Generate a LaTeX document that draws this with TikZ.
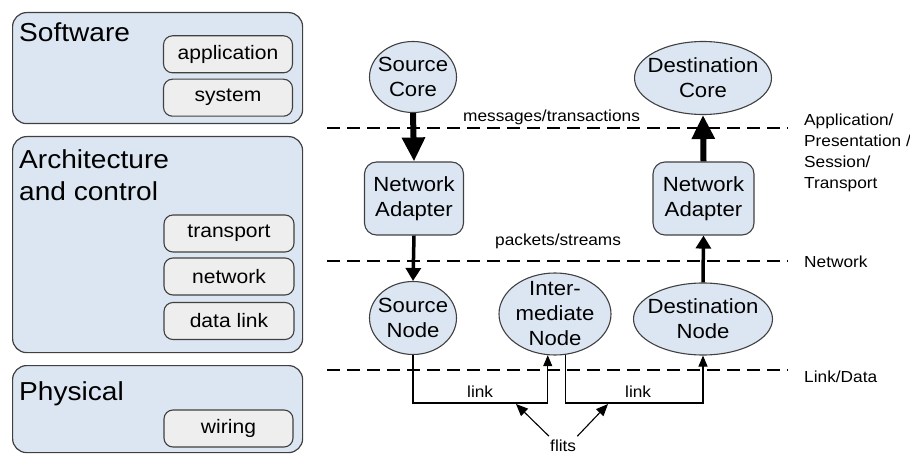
\documentclass[tikz,border=0pt]{standalone}
\usepackage{fontspec}
\setmainfont{Liberation Sans}[FakeStretch=1.08]
\usetikzlibrary{arrows.meta,shapes.geometric,calc}

\definecolor{panelblue}{HTML}{DCE6F2}
\definecolor{tagfill}{HTML}{EEEEEE}
\definecolor{edge}{HTML}{404040}

\tikzset{
  panel/.style={draw=edge, fill=panelblue, rounded corners=14pt, line width=1.2pt,
                anchor=north west, inner sep=0pt},
  tag/.style={draw=edge, fill=tagfill, rounded corners=9pt, line width=1.1pt,
              minimum width=129pt, minimum height=37pt, inner sep=0pt,
              font=\fontsize{19.5}{22}\selectfont},
  title/.style={inner sep=0pt, align=left, font=\fontsize{26}{32}\selectfont},
  nodetext/.style={inner sep=0pt, align=center, font=\fontsize{20.5}{25}\selectfont},
  blob/.style={ellipse, draw=edge, fill=panelblue, line width=1.1pt, inner sep=0pt},
  adapter/.style={draw=edge, fill=panelblue, rounded corners=12pt, line width=1.1pt,
                  minimum height=73pt, inner sep=0pt, align=center,
                  font=\fontsize{20.5}{25}\selectfont},
  layerline/.style={dash pattern=on 13pt off 7pt, line width=2.8pt},
  bigflow/.style={line width=6pt, -{Triangle[length=24pt,width=22pt]}},
  midflow/.style={line width=3.5pt, -{Triangle[length=13pt,width=15pt]}},
  linkflow/.style={line width=1.1pt, -{Triangle[length=11pt,width=9pt]}},
  flitflow/.style={line width=1.1pt, -{Triangle[length=12pt,width=10pt]}},
  lbl/.style={inner sep=0pt, align=left, font=\fontsize{16}{21.3}\selectfont},
}

\begin{document}
\begin{tikzpicture}[x=1pt, y=-1pt]
  \useasboundingbox (0,0) rectangle (910,454);

  % ---- left: layer panels ----
  \node[panel, minimum width=290pt, minimum height=111pt] (swp) at (12,12) {};
  \node[panel, minimum width=290pt, minimum height=216pt] (acp) at (12,136) {};
  \node[panel, minimum width=290pt, minimum height=87pt]  (php) at (12,365) {};

  \node[title, anchor=base west] (swt) at (19,41.7) {Software};
  \node[title, anchor=north west] (act) at (19,149) {Architecture\\and control};
  \node[title, anchor=base west] (pht) at (19,400) {Physical};

  \node[tag] (app)  at (228,54.3)  {application};
  \node[tag] (sys)  at (228,97.7)  {system};
  \node[tag, minimum width=130pt] (trn) at (229,233.5) {transport};
  \node[tag, minimum width=130pt] (net) at (229,276.5) {network};
  \node[tag, minimum width=130pt] (dlk) at (229,321)   {data link};
  \node[tag] (wir)  at (228.5,428.5) {wiring};

  % ---- right: layer boundaries ----
  \coordinate (d1a) at (327,128); \coordinate (d1b) at (788,128);
  \coordinate (d2a) at (327,261); \coordinate (d2b) at (788,261);
  \coordinate (d3a) at (327,370); \coordinate (d3b) at (788,370);
  \draw[layerline] (d1a) -- (d1b);
  \draw[layerline] (d2a) -- (d2b);
  \draw[layerline] (d3a) -- (d3b);

  \node[lbl, anchor=base west] (msg) at (463,121.7) {messages/transactions};
  \node[lbl, anchor=base west] (pkt) at (495,245.5) {packets/streams};

  \node[lbl, anchor=north west] (lyr1) at (804,113.3)
       {Application/\\Presentation /\\Session/\\Transport};
  \node[lbl, anchor=base west] (lyr2) at (804,268) {Network};
  \node[lbl, anchor=base west] (lyr3) at (804,382) {Link/Data};

  % ---- cores, adapters, routers ----
  \node[blob, minimum width=87pt, minimum height=71pt,
        label={[nodetext]center:{Source\\Core}}] (sc) at (413,77) {};
  \node[blob, minimum width=137pt, minimum height=73pt,
        label={[nodetext]center:{Destination\\Core}}] (dc) at (703,78) {};

  \node[adapter, minimum width=99pt]  (na1) at (414,198.5) {Network\\Adapter};
  \node[adapter, minimum width=101pt] (na2) at (703.5,198.5) {Network\\Adapter};

  \node[blob, minimum width=87pt, minimum height=73pt,
        label={[nodetext]center:{Source\\Node}}] (sn) at (413,318) {};
  \node[blob, minimum width=112pt, minimum height=82pt,
        label={[nodetext]center:{Inter-\\mediate\\Node}}] (im) at (555,314) {};
  \node[blob, minimum width=139pt, minimum height=72pt,
        label={[nodetext]center:{Destination\\Node}}] (dn) at (703,319) {};

  % ---- message flow ----
  \draw[bigflow] (sc.south) -- (na1.north);
  \draw[bigflow] (na2.north) -- (dc.south);
  \draw[midflow] (na1.south) -- (sn.north);
  \draw[midflow] (dn.north) -- (na2.south);

  % ---- physical links ----
  \coordinate (lkbase) at (0,403);
  \draw[linkflow] (sn.south) -- (sn.south |- lkbase) -| (im.-100);
  \draw[linkflow] (im.-75) -- (im.-75 |- lkbase) -| (dn.south);
  \node[lbl, anchor=base west] (lk1) at (467,397) {link};
  \node[lbl, anchor=base west] (lk2) at (625,397) {link};

  % ---- flits ----
  \node[lbl, anchor=base west] (flits) at (550,451) {flits};
  \coordinate (fa) at (516,404);
  \coordinate (fb) at (608,404);
  \draw[flitflow] ([shift={(-1,-3)}]flits.north west) -- (fa);
  \draw[flitflow] ([shift={(1,-3)}]flits.north east) -- (fb);
\end{tikzpicture}
\end{document}
